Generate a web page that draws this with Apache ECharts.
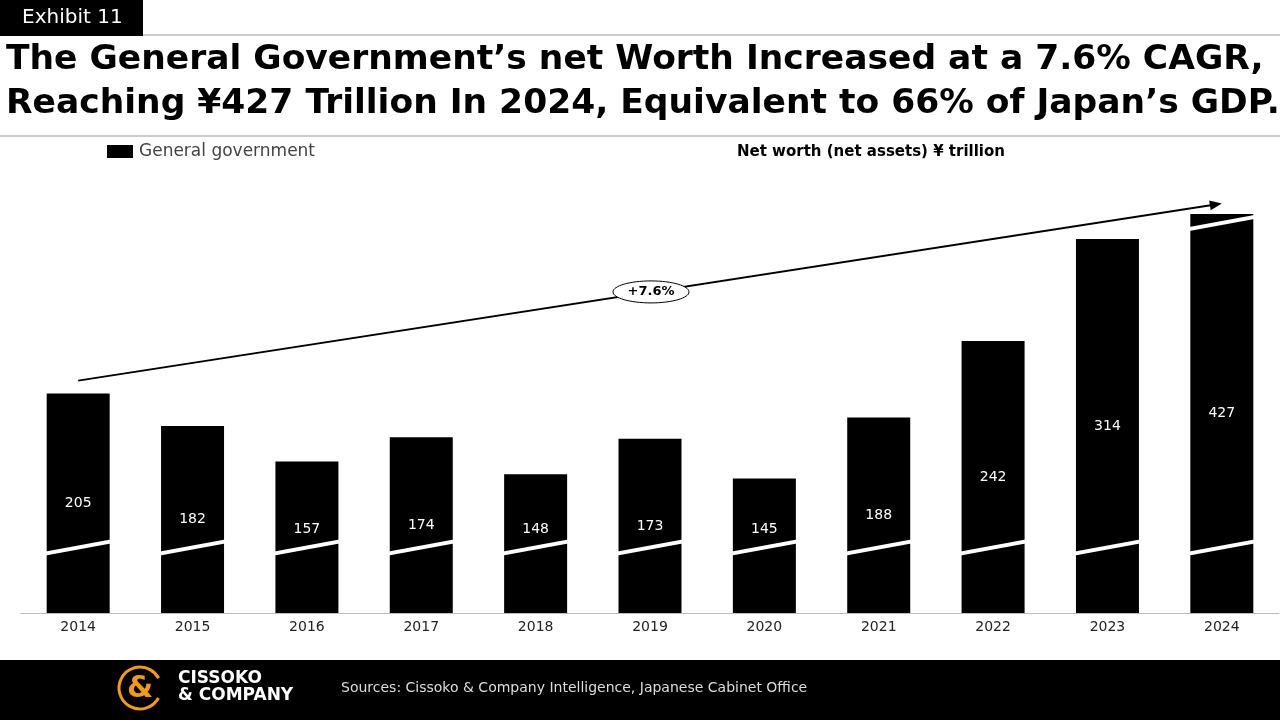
<!DOCTYPE html>
<html><head><meta charset="utf-8">
<script src="https://cdn.jsdelivr.net/npm/echarts@6/dist/echarts.min.js"></script>
<style>html,body{margin:0;padding:0;background:#fff}#c{width:1280px;height:720px}</style>
</head><body><div id="c"></div>
<script>
const years = ['2014','2015','2016','2017','2018','2019','2020','2021','2022','2023','2024'];
const netWorth = [205,182,157,174,148,173,145,188,242,314,427];
const cagrLabel = '+7.6%';
const breakValue = 97;
const topBreakValue = 326;
const trendStart = ['2014', 214];
const trendEnd = ['2024', 339];

const chart = echarts.init(document.getElementById('c'));
const F = '"DejaVu Sans", sans-serif';
const brk = (p,api)=>{
  const c=api.coord([api.value(0),api.value(1)]);
  const w=38;
  return {type:'polygon',shape:{points:[[c[0]-w,c[1]+6],[c[0]+w,c[1]-8],[c[0]+w,c[1]-4],[c[0]-w,c[1]+10]]},style:{fill:'#fff'}};
};
const base = {
  animation:false,
  grid:{left:21,right:1,top:214,bottom:107},
  xAxis:{type:'category',data:years,axisTick:{show:false},
    axisLine:{lineStyle:{color:'#bbb',width:1}},
    axisLabel:{color:'#222',fontSize:14,fontFamily:F,margin:7}},
  yAxis:{type:'value',min:50,max:331.6,show:false,splitLine:{show:false}},
  series:[
    {type:'bar',data:netWorth,barWidth:63,itemStyle:{color:'#000'},clip:true,
     label:{show:true,position:'inside',color:'#fff',fontSize:14,fontFamily:F}},
    {type:'custom',data:years.map((y,i)=>[i,breakValue]),z:5,renderItem:brk},
    {type:'custom',data:[[10,topBreakValue]],z:5,clip:false,renderItem:brk}
  ]
};
chart.setOption(base);
const bottomPx = chart.convertToPixel({gridIndex:0},['2014',50])[1];
const topPx = chart.convertToPixel({gridIndex:0},['2014',331.6])[1];
chart.setOption({series:[{data:netWorth.map(v=>{
  const t=Math.max(chart.convertToPixel({gridIndex:0},['2014',Math.min(v,331.6)])[1],topPx);
  const mid=(t+bottomPx)/2;
  return {value:v,label:{offset:[0,Math.min(0,529-mid)]}};
})}]});
const a = chart.convertToPixel({gridIndex:0},trendStart);
const b = chart.convertToPixel({gridIndex:0},trendEnd);
const ang = Math.atan2(b[1]-a[1],b[0]-a[0]);
const ah=[[b[0],b[1]],[b[0]-12*Math.cos(ang)+5*Math.sin(ang),b[1]-12*Math.sin(ang)-5*Math.cos(ang)],[b[0]-12*Math.cos(ang)-5*Math.sin(ang),b[1]-12*Math.sin(ang)+5*Math.cos(ang)]];
const mx=651, my=a[1]+(b[1]-a[1])*(mx-a[0])/(b[0]-a[0]);
chart.setOption({graphic:[
  {type:'rect',shape:{x:0,y:0,width:143,height:36},style:{fill:'#000'}},
  {type:'text',x:22,y:8,style:{text:'Exhibit 11',fill:'#fff',font:'20px '+F}},
  {type:'line',shape:{x1:143,y1:35,x2:1280,y2:35},style:{stroke:'#bbb',lineWidth:1.5}},
  {type:'text',x:6,y:43,style:{text:'The General Government’s net Worth Increased at a 7.6% CAGR,',fill:'#000',font:'bold 34.5px '+F}},
  {type:'text',x:6,y:87,style:{text:'Reaching ¥427 Trillion In 2024, Equivalent to 66% of Japan’s GDP.',fill:'#000',font:'bold 34.5px '+F}},
  {type:'line',shape:{x1:0,y1:136,x2:1280,y2:136},style:{stroke:'#bbb',lineWidth:1.5}},
  {type:'rect',shape:{x:107,y:145,width:26,height:13},style:{fill:'#000'}},
  {type:'text',x:139,y:143,style:{text:'General government',fill:'#444',font:'17px '+F}},
  {type:'text',x:737,y:145,style:{text:'Net worth (net assets) ¥ trillion',fill:'#000',font:'bold 15px '+F}},
  {type:'line',shape:{x1:a[0],y1:a[1],x2:b[0]-8*Math.cos(ang),y2:b[1]-8*Math.sin(ang)},style:{stroke:'#000',lineWidth:2}},
  {type:'polygon',shape:{points:ah},style:{fill:'#000'}},
  {type:'ellipse',shape:{cx:mx,cy:my,rx:38,ry:11},style:{fill:'#fff',stroke:'#000',lineWidth:1},z:10},
  {type:'text',x:mx,y:my,z:11,style:{text:cagrLabel,fill:'#000',font:'bold 13px '+F,align:'center',verticalAlign:'middle'}},
  {type:'rect',shape:{x:0,y:660,width:1280,height:60},style:{fill:'#000'}},
  {type:'arc',shape:{cx:140,cy:688,r:21,startAngle:0.5,endAngle:5.8},style:{stroke:'#f29a1f',lineWidth:3,fill:null}},
  {type:'text',x:140,y:689,style:{text:'&',fill:'#f29a1f',font:'bold 30px '+F,align:'center',verticalAlign:'middle'}},
  {type:'text',x:178,y:670,style:{text:'CISSOKO',fill:'#fff',font:'bold 17px '+F}},
  {type:'text',x:178,y:687,style:{text:'& COMPANY',fill:'#fff',font:'bold 17px '+F}},
  {type:'text',x:341,y:681,style:{text:'Sources: Cissoko & Company Intelligence, Japanese Cabinet Office',fill:'#ddd',font:'14px '+F}}
]});
</script></body></html>
